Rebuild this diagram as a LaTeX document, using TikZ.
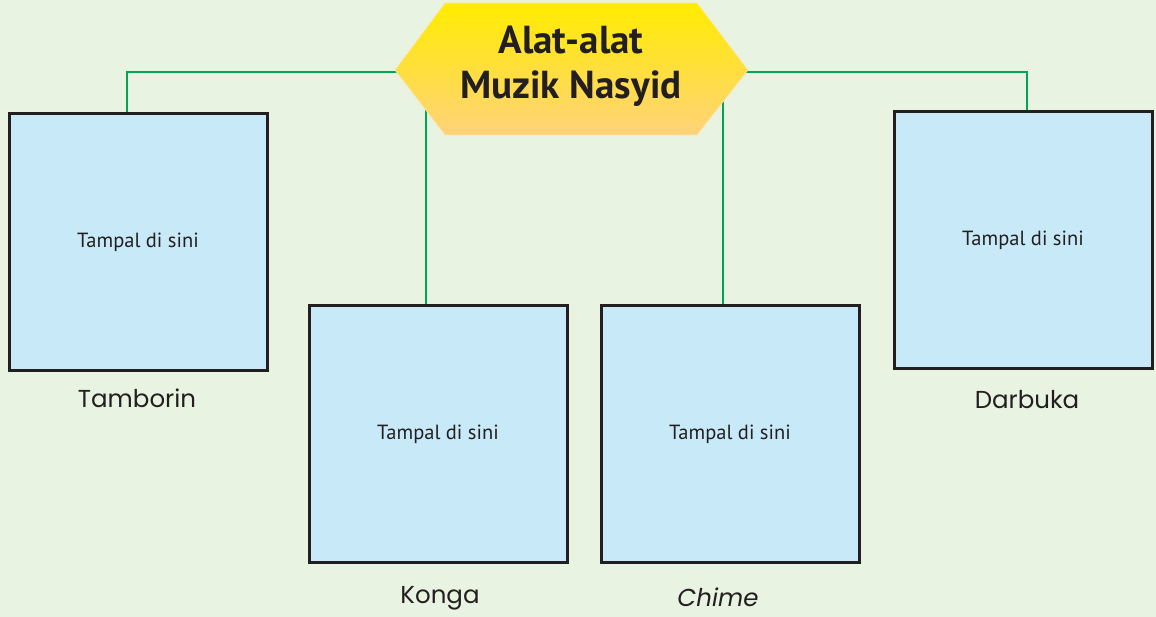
\documentclass[tikz,border=0pt]{standalone}
\usepackage{fontspec}
\setmainfont{PT Sans}
\newfontfamily\labelfont{Poppins}
\definecolor{bgc}{HTML}{E8F3E1}
\definecolor{boxfill}{HTML}{C7E9F8}
\definecolor{boxline}{HTML}{231F20}
\definecolor{linkc}{HTML}{00A651}
\definecolor{hextop}{HTML}{FFEC00}
\definecolor{hexbot}{HTML}{FFD27A}
\tikzset{
  x=1pt, y=-1pt,
  pastebox/.style={draw=boxline, line width=3pt, fill=boxfill, minimum width=258pt, minimum height=256pt, inner sep=0pt, font=\fontsize{20.5}{22}\selectfont, text=boxline},
  link/.style={draw=linkc, line width=2.8pt},
  namelabel/.style={font=\labelfont\fontsize{24.5}{28}\selectfont, text=boxline},
}
\begin{document}
\begin{tikzpicture}
\fill[bgc] (0,0) rectangle (1156,617);
\useasboundingbox (0,0) rectangle (1156,617);
% hexagon vertices
\coordinate (hL) at (395,70);
\coordinate (hTL) at (445,3);
\coordinate (hTR) at (697,3);
\coordinate (hR) at (748,70);
\coordinate (hBR) at (697,135);
\coordinate (hBL) at (445,135);
% boxes
\node[pastebox] (b1) at (138,242) {\raisebox{4pt}{Tampal di sini}};
\node[pastebox] (b2) at (438,434) {\raisebox{4pt}{Tampal di sini}};
\node[pastebox] (b3) at (730,434) {\raisebox{4pt}{Tampal di sini}};
\node[pastebox] (b4) at (1023,240) {\raisebox{4pt}{Tampal di sini}};
% labels
\node[namelabel] (l1) at (137,398) {Tamborin};
\node[namelabel] (l2) at (440,598) {Konga};
\node[namelabel] (l3) at (718,597) {\itshape Chime};
\node[namelabel] (l4) at (1027,400) {Darbuka};
% connectors
\coordinate (j1) at (127,72);
\coordinate (j4) at (1027,72);
\coordinate (t2) at (426,100);
\coordinate (t3) at (723,100);
\draw[link] (b1.north -| j1) -- (j1) -- (hL |- j1) -- ++(20,0);
\draw[link] (b4.north -| j4) -- (j4) -- (hR |- j4) -- ++(-20,0);
\draw[link] (b2.north -| t2) -- (t2);
\draw[link] (b3.north -| t3) -- (t3);
% hexagon
\shade[top color=hextop, bottom color=hexbot, draw=hexbot!60!white, line width=0.6pt]
  (hL) -- (hTL) -- (hTR) -- (hR) -- (hBR) -- (hBL) -- cycle;
\node[font=\bfseries\fontsize{39}{45}\selectfont, text=boxline, align=center] (title) at (571,66) {Alat-alat\\Muzik Nasyid};
\end{tikzpicture}
\end{document}
